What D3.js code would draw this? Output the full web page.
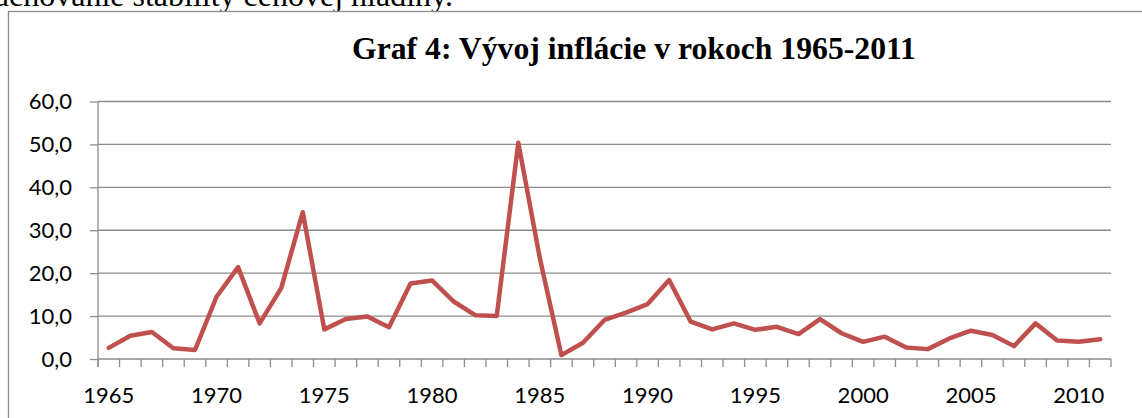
<!DOCTYPE html>
<html>
<head>
<meta charset="utf-8">
<script src="https://cdn.jsdelivr.net/npm/d3@7"></script>
<style>
  html, body { margin: 0; padding: 0; background: #fff; }
  svg { display: block; }
</style>
</head>
<body>
<svg id="chart" width="1142" height="418"></svg>
<script>
const years = d3.range(1965, 2012);
const inflation = [
  2.6, 5.4, 6.3, 2.5, 2.1, 14.5, 21.4, 8.3, 16.5, 34.2,
  6.9, 9.3, 9.9, 7.4, 17.6, 18.3, 13.4, 10.2, 10.0, 50.4,
  23.5, 0.9, 3.8, 9.1, 10.8, 12.8, 18.4, 8.7, 6.9, 8.3,
  6.8, 7.5, 5.8, 9.3, 6.0, 4.0, 5.2, 2.7, 2.3, 4.8,
  6.6, 5.6, 3.0, 8.3, 4.3, 4.0, 4.6
];
const yTicks = [0, 10, 20, 30, 40, 50, 60];
const xLabelYears = [1965, 1970, 1975, 1980, 1985, 1990, 1995, 2000, 2005, 2010];
const titleText = "Graf 4: Vývoj inflácie v rokoch 1965-2011";
const bodyText = "zachovanie stability cenovej hladiny.";

const svg = d3.select("#chart");
const plotLeft = 98, plotRight = 1111, plotTop = 101.5, plotBottom = 359;
const gridColor = "#8c8c8c";
const labelFont = "Lato, 'Liberation Sans', sans-serif";

// cut-off body text above the chart
svg.append("text")
  .attr("x", 453).attr("y", 6)
  .attr("text-anchor", "end")
  .attr("font-family", "'Liberation Serif', 'Times New Roman', serif")
  .attr("font-size", 32)
  .attr("fill", "#000")
  .text(bodyText);

// chart frame
svg.append("rect")
  .attr("x", 8.5).attr("y", 11.5)
  .attr("width", 1200).attr("height", 500)
  .attr("fill", "#fff")
  .attr("stroke", gridColor).attr("stroke-width", 1.3);

// title
svg.append("text")
  .attr("x", 634).attr("y", 59)
  .attr("text-anchor", "middle")
  .attr("font-family", "'Liberation Serif', 'Times New Roman', serif")
  .attr("font-weight", "bold")
  .attr("font-size", 31.7)
  .attr("fill", "#000")
  .text(titleText);

const x = d3.scaleBand().domain(years).range([plotLeft, plotRight]).paddingInner(0).paddingOuter(0);
const y = d3.scaleLinear().domain([0, 60]).range([plotBottom, plotTop]);
const fmt = v => d3.format(".1f")(v).replace(".", ",");

// horizontal gridlines
svg.append("g").selectAll("line").data(yTicks.filter(d => d > 0)).join("line")
  .attr("x1", plotLeft).attr("x2", plotRight)
  .attr("y1", d => y(d)).attr("y2", d => y(d))
  .attr("stroke", gridColor).attr("stroke-width", 1.3);

// y axis
const yAxis = d3.axisLeft(y).tickValues(yTicks).tickFormat(fmt).tickSize(8).tickPadding(18);
const gy = svg.append("g").attr("transform", `translate(${plotLeft},0)`).call(yAxis);
gy.select(".domain").attr("stroke", gridColor).attr("stroke-width", 1.3)
  .attr("d", `M0,${plotTop}V${plotBottom + 8}`);
gy.selectAll(".tick line").attr("stroke", gridColor).attr("stroke-width", 1.3);
gy.selectAll(".tick text").attr("font-family", labelFont).attr("font-size", 22).attr("fill", "#000");

// x axis line
svg.append("line")
  .attr("x1", plotLeft).attr("x2", plotRight).attr("y1", plotBottom).attr("y2", plotBottom)
  .attr("stroke", gridColor).attr("stroke-width", 1.3);

// x tick marks at category boundaries
const boundaries = years.map(d => x(d)).concat([x.range()[1]]);
svg.append("g").selectAll("line").data(boundaries).join("line")
  .attr("x1", d => d).attr("x2", d => d)
  .attr("y1", plotBottom).attr("y2", plotBottom + 8)
  .attr("stroke", gridColor).attr("stroke-width", 1.3);

// x labels
const xAxis = d3.axisBottom(x).tickValues(xLabelYears).tickSize(0).tickPadding(28);
const gx = svg.append("g").attr("transform", `translate(0,${plotBottom})`).call(xAxis);
gx.select(".domain").remove();
gx.selectAll(".tick text").attr("font-family", labelFont).attr("font-size", 22).attr("fill", "#000");

// line
const line = d3.line()
  .x((d, i) => x(years[i]) + x.bandwidth() / 2)
  .y(d => y(d));
svg.append("path")
  .datum(inflation)
  .attr("d", line)
  .attr("fill", "none")
  .attr("stroke", "#c0504d")
  .attr("stroke-width", 4.5)
  .attr("stroke-linejoin", "round")
  .attr("stroke-linecap", "round");
</script>
</body>
</html>
